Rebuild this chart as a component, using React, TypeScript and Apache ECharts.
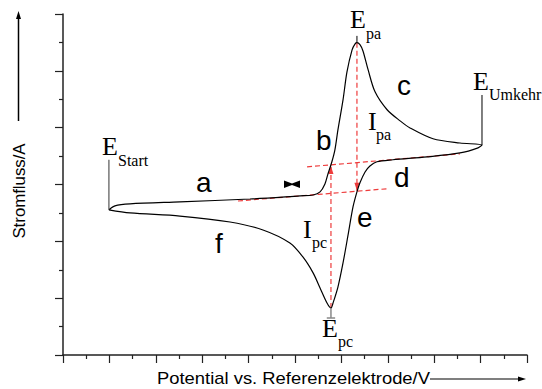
import React, { useEffect, useRef } from "react";
import * as echarts from "echarts";

// Cyclic voltammogram: forward (anodic) sweep from E_Start to E_Umkehr
const forwardPotential = [
  1.98, 2.24, 2.89, 5.04, 8.06, 10.22, 10.78, 11.08, 11.29, 11.42, 11.59, 11.72,
  11.85, 12.07, 12.24, 12.46, 12.59, 12.67, 12.8, 12.93, 13.15, 13.45, 13.97,
  14.53, 14.96, 15.95, 17.11, 18.06,
];
const forwardCurrent = [
  5.11, 5.25, 5.32, 5.39, 5.49, 5.6, 5.63, 5.74, 6.02, 6.37, 6.8, 7.22, 7.92,
  8.98, 9.96, 10.74, 10.95, 10.99, 10.92, 10.7, 10.04, 9.26, 8.63, 8.24, 7.99,
  7.61, 7.46, 7.39,
];
// reverse (cathodic) sweep back to the start potential
const reversePotential = [
  17.89, 17.11, 15.69, 14.22, 13.53, 13.23, 13.02, 12.8, 12.67, 12.5, 12.28,
  12.07, 11.85, 11.64, 11.55, 11.38, 11.08, 10.78, 10.34, 9.78, 8.62, 7.2, 5.04,
  2.89, 1.98,
];
const reverseCurrent = [
  7.29, 7.11, 6.97, 6.87, 6.8, 6.65, 6.44, 6.06, 5.74, 5.21, 4.19, 3.24, 2.39,
  1.83, 1.65, 1.83, 2.36, 2.89, 3.45, 3.94, 4.4, 4.68, 4.89, 5.0, 5.11,
];

// extrapolated capacitive baselines [potential, current]
const forwardBaseline = [
  [7.54, 5.42],
  [13.97, 5.85],
];
const reverseBaseline = [
  [10.52, 6.62],
  [17.11, 7.08],
];

// peak currents: potential, peak current, baseline current
const anodicPeak = { potential: 12.67, peak: 10.99, base: 5.78 };
const cathodicPeak = { potential: 11.55, peak: 1.65, base: 6.65 };

// vertical markers for the switching potentials
const startMarkerTop = 6.87;
const reversalMarkerTop = 9.15;
const anodicTickTop = 11.23;
const cathodicTickBottom = 1.3;

const RED = "#ee3b3b";
const SERIF = '"Liberation Serif", "DejaVu Serif", serif';
const SANS = '"Liberation Sans", Arial, sans-serif';

const serifText = (text: string, x: number, y: number, size: number) => ({
  type: "text",
  x,
  y,
  style: {
    text,
    fill: "#000",
    fontSize: size,
    fontFamily: SERIF,
    align: "left",
    verticalAlign: "middle",
  },
});

const letter = (text: string, x: number, y: number) => ({
  type: "text",
  x,
  y,
  style: {
    text,
    fill: "#000",
    fontSize: 28,
    fontFamily: SANS,
    align: "left",
    verticalAlign: "middle",
  },
});

export default function App() {
  const ref = useRef<HTMLDivElement>(null);

  useEffect(() => {
    document.body.style.margin = "0";
    if (!ref.current) return;
    const chart = echarts.init(ref.current, undefined, { renderer: "svg" });

    const curve: number[][] = [];
    forwardPotential.forEach((x, i) => curve.push([x, forwardCurrent[i]]));
    reversePotential.forEach((x, i) => curve.push([x, reverseCurrent[i]]));

    const startX = forwardPotential[0];
    const startY = forwardCurrent[0];
    const revX = forwardPotential[forwardPotential.length - 1];
    const revY = forwardCurrent[forwardCurrent.length - 1];

    const axisCommon = {
      type: "value",
      axisLine: { show: true, lineStyle: { color: "#222", width: 1.5 } },
      axisTick: { show: true, inside: false, length: 8, lineStyle: { color: "#222", width: 1.2 } },
      minorTick: { show: true, splitNumber: 2, length: 4, lineStyle: { color: "#222", width: 1.2 } },
      axisLabel: { show: false },
      splitLine: { show: false },
      minorSplitLine: { show: false },
    };

    const dashed = { color: RED, width: 1.2, type: [5, 3] };
    const black = { color: "#000", width: 1 };

    chart.setOption({
      animation: false,
      backgroundColor: "#fff",
      grid: { left: 63, top: 14, width: 464, height: 341 },
      xAxis: { ...axisCommon, min: 0, max: 20, interval: 2 },
      yAxis: { ...axisCommon, min: 0, max: 12, interval: 2 },
      series: [
        {
          type: "line",
          data: forwardBaseline,
          symbol: "none",
          lineStyle: dashed,
          z: 1,
        },
        {
          type: "line",
          data: reverseBaseline,
          symbol: "none",
          lineStyle: dashed,
          z: 1,
        },
        {
          type: "line",
          data: [
            { value: [anodicPeak.potential, anodicPeak.peak], symbol: "none" },
            {
              value: [anodicPeak.potential, anodicPeak.base],
              symbol: "triangle",
              symbolSize: [5, 8],
              symbolRotate: 180,
              symbolOffset: [0, -4],
            },
          ],
          showSymbol: true,
          symbol: "none",
          itemStyle: { color: RED },
          lineStyle: dashed,
          z: 1,
        },
        {
          type: "line",
          data: [
            { value: [cathodicPeak.potential, cathodicPeak.peak], symbol: "none" },
            {
              value: [cathodicPeak.potential, cathodicPeak.base],
              symbol: "triangle",
              symbolSize: [5, 8],
              symbolOffset: [0, 4],
            },
          ],
          showSymbol: true,
          symbol: "none",
          itemStyle: { color: RED },
          lineStyle: dashed,
          z: 1,
        },
        {
          type: "line",
          data: curve,
          symbol: "none",
          smooth: 0.3,
          lineStyle: { color: "#000", width: 1.2 },
          z: 3,
        },
        {
          type: "line",
          data: [
            [startX, startY],
            [startX, startMarkerTop],
          ],
          symbol: "none",
          lineStyle: { color: "#333", width: 1 },
        },
        {
          type: "line",
          data: [
            [revX, revY],
            [revX, reversalMarkerTop],
          ],
          symbol: "none",
          lineStyle: black,
        },
        {
          type: "line",
          data: [
            [anodicPeak.potential, anodicPeak.peak],
            [anodicPeak.potential, anodicTickTop],
          ],
          symbol: "none",
          lineStyle: black,
        },
        {
          type: "line",
          data: [
            [cathodicPeak.potential, cathodicPeak.peak],
            [cathodicPeak.potential, cathodicTickBottom],
          ],
          symbol: "none",
          lineStyle: { color: "#888", width: 1.5 },
        },
        {
          type: "line",
          data: [
            [cathodicPeak.potential - 0.18, cathodicTickBottom],
            [cathodicPeak.potential + 0.18, cathodicTickBottom],
          ],
          symbol: "none",
          lineStyle: { color: "#888", width: 1.5 },
        },
      ],
      graphic: [
        // potential labels
        serifText("E", 102, 146, 26),
        serifText("Start", 118, 160.5, 16),
        serifText("E", 350, 19, 26),
        serifText("pa", 366, 33.5, 16),
        serifText("E", 473, 81, 26),
        serifText("Umkehr", 489, 94.5, 16),
        serifText("E", 322, 328, 26),
        serifText("pc", 338, 341.5, 16),
        // peak current labels
        serifText("I", 368, 121, 26),
        serifText("pa", 376, 134.5, 16),
        serifText("I", 303, 229, 26),
        serifText("pc", 312, 242.5, 16),
        // sweep segments
        letter("a", 196, 182.5),
        letter("b", 316, 140.5),
        letter("c", 397, 85.5),
        letter("d", 394, 177.5),
        letter("e", 357, 217.5),
        letter("f", 215, 243.5),
        // scan direction mark
        {
          type: "polygon",
          shape: {
            points: [
              [284, 180.5],
              [292, 183.5],
              [300, 180.5],
              [300, 188],
              [292, 185],
              [284, 188],
            ],
          },
          style: { fill: "#000" },
        },
        // axis titles with arrows
        {
          type: "text",
          x: 19.5,
          y: 191,
          rotation: Math.PI / 2,
          scaleX: 1.05,
          style: {
            text: "Stromfluss/A",
            fill: "#000",
            fontSize: 16,
            fontFamily: SANS,
            align: "center",
            verticalAlign: "middle",
          },
        },
        {
          type: "line",
          shape: { x1: 18.5, y1: 121, x2: 18.5, y2: 18 },
          style: { stroke: "#000", lineWidth: 1.5 },
        },
        {
          type: "polygon",
          shape: { points: [[18.5, 11], [16, 19], [21, 19]] },
          style: { fill: "#000" },
        },
        {
          type: "text",
          x: 157,
          y: 378.5,
          scaleX: 1.15,
          style: {
            text: "Potential vs. Referenzelektrode/V",
            fill: "#000",
            fontSize: 16,
            fontFamily: SANS,
            align: "left",
            verticalAlign: "middle",
          },
        },
        {
          type: "line",
          shape: { x1: 430, y1: 379, x2: 519, y2: 379 },
          style: { stroke: "#000", lineWidth: 1.2 },
        },
        {
          type: "polygon",
          shape: { points: [[526, 379], [518, 376.5], [518, 381.5]] },
          style: { fill: "#000" },
        },
      ],
    });

    return () => chart.dispose();
  }, []);

  return <div ref={ref} style={{ width: 542, height: 389 }} />;
}
